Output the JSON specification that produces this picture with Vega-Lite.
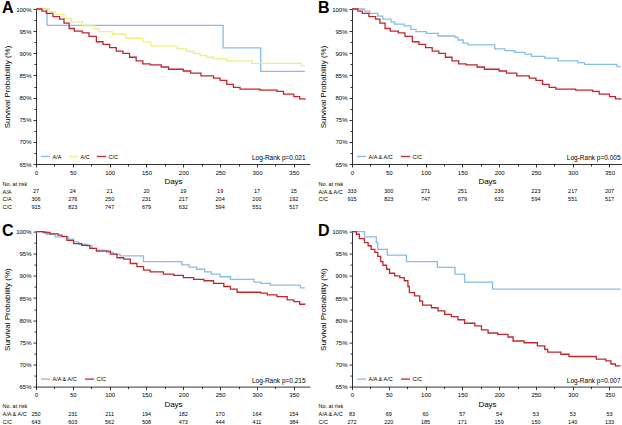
{
"$schema": "https://vega.github.io/schema/vega-lite/v6.json",
"background": "white",
"padding": {"left": 2, "top": 0, "right": 0, "bottom": 0},
"bounds": "flush",
"columns": 2,
"spacing": {"row": 19.3, "column": 42},
"resolve": {"scale": {"color": "independent", "x": "independent", "y": "independent"}, "legend": {"color": "independent"}},
"datasets": {
"km": [
{"p":"A","g":"A/A","d":0,"s":100},{"p":"A","g":"A/A","d":15,"s":96.3},{"p":"A","g":"A/A","d":254,"s":91.2},{"p":"A","g":"A/A","d":305,"s":85.9},{"p":"A","g":"A/A","d":365,"s":85.9},
{"p":"A","g":"A/C","d":0,"s":100},{"p":"A","g":"A/C","d":18,"s":99.4},{"p":"A","g":"A/C","d":27,"s":98.8},{"p":"A","g":"A/C","d":38,"s":97.9},{"p":"A","g":"A/C","d":48,"s":97.1},{"p":"A","g":"A/C","d":63,"s":96.2},{"p":"A","g":"A/C","d":79,"s":95.5},{"p":"A","g":"A/C","d":86,"s":94.9},{"p":"A","g":"A/C","d":104,"s":94.3},{"p":"A","g":"A/C","d":122,"s":93.4},{"p":"A","g":"A/C","d":145,"s":92.5},{"p":"A","g":"A/C","d":156,"s":91.6},{"p":"A","g":"A/C","d":192,"s":91.0},{"p":"A","g":"A/C","d":204,"s":90.4},{"p":"A","g":"A/C","d":214,"s":90.0},{"p":"A","g":"A/C","d":223,"s":89.5},{"p":"A","g":"A/C","d":232,"s":89.1},{"p":"A","g":"A/C","d":241,"s":88.8},{"p":"A","g":"A/C","d":259,"s":88.3},{"p":"A","g":"A/C","d":293,"s":87.7},{"p":"A","g":"A/C","d":360,"s":87.2},{"p":"A","g":"A/C","d":365,"s":87.2},
{"p":"A","g":"C/C","d":0,"s":100},{"p":"A","g":"C/C","d":8,"s":99.5},{"p":"A","g":"C/C","d":14,"s":99.0},{"p":"A","g":"C/C","d":23,"s":98.3},{"p":"A","g":"C/C","d":32,"s":97.7},{"p":"A","g":"C/C","d":38,"s":96.8},{"p":"A","g":"C/C","d":45,"s":95.6},{"p":"A","g":"C/C","d":52,"s":95.0},{"p":"A","g":"C/C","d":63,"s":94.6},{"p":"A","g":"C/C","d":72,"s":93.8},{"p":"A","g":"C/C","d":82,"s":92.6},{"p":"A","g":"C/C","d":91,"s":92.0},{"p":"A","g":"C/C","d":100,"s":91.3},{"p":"A","g":"C/C","d":109,"s":90.5},{"p":"A","g":"C/C","d":118,"s":90.0},{"p":"A","g":"C/C","d":127,"s":89.1},{"p":"A","g":"C/C","d":136,"s":88.3},{"p":"A","g":"C/C","d":145,"s":87.6},{"p":"A","g":"C/C","d":155,"s":87.4},{"p":"A","g":"C/C","d":170,"s":86.9},{"p":"A","g":"C/C","d":180,"s":86.4},{"p":"A","g":"C/C","d":200,"s":86.0},{"p":"A","g":"C/C","d":210,"s":85.5},{"p":"A","g":"C/C","d":224,"s":84.9},{"p":"A","g":"C/C","d":241,"s":84.4},{"p":"A","g":"C/C","d":250,"s":83.9},{"p":"A","g":"C/C","d":259,"s":83.0},{"p":"A","g":"C/C","d":268,"s":82.3},{"p":"A","g":"C/C","d":277,"s":81.9},{"p":"A","g":"C/C","d":304,"s":81.7},{"p":"A","g":"C/C","d":327,"s":81.4},{"p":"A","g":"C/C","d":336,"s":80.8},{"p":"A","g":"C/C","d":350,"s":80.2},{"p":"A","g":"C/C","d":358,"s":79.7},{"p":"A","g":"C/C","d":365,"s":79.5},
{"p":"B","g":"A/A & A/C","d":0,"s":100},{"p":"B","g":"A/A & A/C","d":17,"s":99.5},{"p":"B","g":"A/A & A/C","d":24,"s":99.0},{"p":"B","g":"A/A & A/C","d":35,"s":98.4},{"p":"B","g":"A/A & A/C","d":42,"s":97.7},{"p":"B","g":"A/A & A/C","d":53,"s":97.1},{"p":"B","g":"A/A & A/C","d":58,"s":96.6},{"p":"B","g":"A/A & A/C","d":71,"s":96.2},{"p":"B","g":"A/A & A/C","d":80,"s":95.4},{"p":"B","g":"A/A & A/C","d":87,"s":94.9},{"p":"B","g":"A/A & A/C","d":101,"s":94.5},{"p":"B","g":"A/A & A/C","d":117,"s":93.9},{"p":"B","g":"A/A & A/C","d":140,"s":93.6},{"p":"B","g":"A/A & A/C","d":144,"s":93.0},{"p":"B","g":"A/A & A/C","d":151,"s":92.3},{"p":"B","g":"A/A & A/C","d":158,"s":91.9},{"p":"B","g":"A/A & A/C","d":194,"s":91.0},{"p":"B","g":"A/A & A/C","d":208,"s":90.6},{"p":"B","g":"A/A & A/C","d":221,"s":90.2},{"p":"B","g":"A/A & A/C","d":235,"s":89.8},{"p":"B","g":"A/A & A/C","d":244,"s":89.3},{"p":"B","g":"A/A & A/C","d":262,"s":88.9},{"p":"B","g":"A/A & A/C","d":280,"s":88.3},{"p":"B","g":"A/A & A/C","d":307,"s":87.9},{"p":"B","g":"A/A & A/C","d":316,"s":87.5},{"p":"B","g":"A/A & A/C","d":360,"s":87.0},{"p":"B","g":"A/A & A/C","d":365,"s":87.0},
{"p":"B","g":"C/C","d":0,"s":100},{"p":"B","g":"C/C","d":8,"s":99.5},{"p":"B","g":"C/C","d":14,"s":99.0},{"p":"B","g":"C/C","d":23,"s":98.3},{"p":"B","g":"C/C","d":32,"s":97.7},{"p":"B","g":"C/C","d":38,"s":96.8},{"p":"B","g":"C/C","d":45,"s":95.6},{"p":"B","g":"C/C","d":52,"s":95.0},{"p":"B","g":"C/C","d":63,"s":94.6},{"p":"B","g":"C/C","d":72,"s":93.8},{"p":"B","g":"C/C","d":82,"s":92.6},{"p":"B","g":"C/C","d":91,"s":92.0},{"p":"B","g":"C/C","d":100,"s":91.3},{"p":"B","g":"C/C","d":109,"s":90.5},{"p":"B","g":"C/C","d":118,"s":90.0},{"p":"B","g":"C/C","d":127,"s":89.1},{"p":"B","g":"C/C","d":136,"s":88.3},{"p":"B","g":"C/C","d":145,"s":87.6},{"p":"B","g":"C/C","d":155,"s":87.4},{"p":"B","g":"C/C","d":170,"s":86.9},{"p":"B","g":"C/C","d":180,"s":86.4},{"p":"B","g":"C/C","d":200,"s":86.0},{"p":"B","g":"C/C","d":210,"s":85.5},{"p":"B","g":"C/C","d":224,"s":84.9},{"p":"B","g":"C/C","d":241,"s":84.4},{"p":"B","g":"C/C","d":250,"s":83.9},{"p":"B","g":"C/C","d":259,"s":83.0},{"p":"B","g":"C/C","d":268,"s":82.3},{"p":"B","g":"C/C","d":277,"s":81.9},{"p":"B","g":"C/C","d":304,"s":81.7},{"p":"B","g":"C/C","d":327,"s":81.4},{"p":"B","g":"C/C","d":336,"s":80.8},{"p":"B","g":"C/C","d":350,"s":80.2},{"p":"B","g":"C/C","d":358,"s":79.7},{"p":"B","g":"C/C","d":365,"s":79.5},
{"p":"C","g":"A/A & A/C","d":0,"s":100},{"p":"C","g":"A/A & A/C","d":14,"s":99.4},{"p":"C","g":"A/A & A/C","d":26,"s":98.8},{"p":"C","g":"A/A & A/C","d":44,"s":98.3},{"p":"C","g":"A/A & A/C","d":51,"s":97.7},{"p":"C","g":"A/A & A/C","d":58,"s":97.1},{"p":"C","g":"A/A & A/C","d":69,"s":96.8},{"p":"C","g":"A/A & A/C","d":76,"s":96.2},{"p":"C","g":"A/A & A/C","d":82,"s":95.8},{"p":"C","g":"A/A & A/C","d":96,"s":95.3},{"p":"C","g":"A/A & A/C","d":105,"s":94.9},{"p":"C","g":"A/A & A/C","d":114,"s":94.5},{"p":"C","g":"A/A & A/C","d":146,"s":93.2},{"p":"C","g":"A/A & A/C","d":198,"s":92.5},{"p":"C","g":"A/A & A/C","d":208,"s":92.0},{"p":"C","g":"A/A & A/C","d":218,"s":91.5},{"p":"C","g":"A/A & A/C","d":229,"s":90.9},{"p":"C","g":"A/A & A/C","d":238,"s":90.4},{"p":"C","g":"A/A & A/C","d":250,"s":89.8},{"p":"C","g":"A/A & A/C","d":264,"s":89.2},{"p":"C","g":"A/A & A/C","d":296,"s":88.6},{"p":"C","g":"A/A & A/C","d":305,"s":88.3},{"p":"C","g":"A/A & A/C","d":318,"s":87.9},{"p":"C","g":"A/A & A/C","d":359,"s":87.3},{"p":"C","g":"A/A & A/C","d":365,"s":87.3},
{"p":"C","g":"C/C","d":0,"s":100},{"p":"C","g":"C/C","d":10,"s":99.8},{"p":"C","g":"C/C","d":19,"s":99.5},{"p":"C","g":"C/C","d":30,"s":99.2},{"p":"C","g":"C/C","d":35,"s":98.9},{"p":"C","g":"C/C","d":42,"s":98.0},{"p":"C","g":"C/C","d":51,"s":97.3},{"p":"C","g":"C/C","d":62,"s":96.9},{"p":"C","g":"C/C","d":73,"s":96.2},{"p":"C","g":"C/C","d":82,"s":95.6},{"p":"C","g":"C/C","d":101,"s":94.9},{"p":"C","g":"C/C","d":110,"s":94.1},{"p":"C","g":"C/C","d":119,"s":93.8},{"p":"C","g":"C/C","d":128,"s":92.8},{"p":"C","g":"C/C","d":137,"s":92.1},{"p":"C","g":"C/C","d":146,"s":91.3},{"p":"C","g":"C/C","d":155,"s":90.9},{"p":"C","g":"C/C","d":173,"s":90.4},{"p":"C","g":"C/C","d":187,"s":90.1},{"p":"C","g":"C/C","d":200,"s":89.6},{"p":"C","g":"C/C","d":214,"s":89.2},{"p":"C","g":"C/C","d":228,"s":88.9},{"p":"C","g":"C/C","d":241,"s":88.3},{"p":"C","g":"C/C","d":255,"s":87.6},{"p":"C","g":"C/C","d":264,"s":87.0},{"p":"C","g":"C/C","d":273,"s":86.3},{"p":"C","g":"C/C","d":305,"s":86.1},{"p":"C","g":"C/C","d":314,"s":85.7},{"p":"C","g":"C/C","d":327,"s":85.3},{"p":"C","g":"C/C","d":341,"s":84.6},{"p":"C","g":"C/C","d":350,"s":84.2},{"p":"C","g":"C/C","d":358,"s":83.6},{"p":"C","g":"C/C","d":365,"s":83.5},
{"p":"D","g":"A/A & A/C","d":0,"s":100},{"p":"D","g":"A/A & A/C","d":17,"s":98.8},{"p":"D","g":"A/A & A/C","d":33,"s":97.5},{"p":"D","g":"A/A & A/C","d":35,"s":96.0},{"p":"D","g":"A/A & A/C","d":48,"s":94.7},{"p":"D","g":"A/A & A/C","d":74,"s":93.2},{"p":"D","g":"A/A & A/C","d":116,"s":91.9},{"p":"D","g":"A/A & A/C","d":140,"s":90.4},{"p":"D","g":"A/A & A/C","d":153,"s":88.6},{"p":"D","g":"A/A & A/C","d":191,"s":87.0},{"p":"D","g":"A/A & A/C","d":365,"s":87.0},
{"p":"D","g":"C/C","d":0,"s":100},{"p":"D","g":"C/C","d":6,"s":99.4},{"p":"D","g":"C/C","d":10,"s":98.4},{"p":"D","g":"C/C","d":17,"s":97.5},{"p":"D","g":"C/C","d":22,"s":96.8},{"p":"D","g":"C/C","d":26,"s":96.0},{"p":"D","g":"C/C","d":31,"s":95.3},{"p":"D","g":"C/C","d":35,"s":94.4},{"p":"D","g":"C/C","d":39,"s":93.2},{"p":"D","g":"C/C","d":42,"s":92.4},{"p":"D","g":"C/C","d":47,"s":91.5},{"p":"D","g":"C/C","d":51,"s":90.6},{"p":"D","g":"C/C","d":58,"s":90.0},{"p":"D","g":"C/C","d":65,"s":89.6},{"p":"D","g":"C/C","d":71,"s":88.9},{"p":"D","g":"C/C","d":76,"s":87.6},{"p":"D","g":"C/C","d":78,"s":86.2},{"p":"D","g":"C/C","d":85,"s":85.5},{"p":"D","g":"C/C","d":92,"s":84.3},{"p":"D","g":"C/C","d":96,"s":83.4},{"p":"D","g":"C/C","d":108,"s":82.8},{"p":"D","g":"C/C","d":117,"s":82.1},{"p":"D","g":"C/C","d":126,"s":81.3},{"p":"D","g":"C/C","d":135,"s":80.8},{"p":"D","g":"C/C","d":144,"s":80.1},{"p":"D","g":"C/C","d":153,"s":79.3},{"p":"D","g":"C/C","d":167,"s":78.7},{"p":"D","g":"C/C","d":176,"s":77.8},{"p":"D","g":"C/C","d":185,"s":77.1},{"p":"D","g":"C/C","d":198,"s":76.8},{"p":"D","g":"C/C","d":212,"s":76.2},{"p":"D","g":"C/C","d":219,"s":75.3},{"p":"D","g":"C/C","d":234,"s":74.9},{"p":"D","g":"C/C","d":252,"s":74.2},{"p":"D","g":"C/C","d":262,"s":73.4},{"p":"D","g":"C/C","d":266,"s":72.8},{"p":"D","g":"C/C","d":284,"s":72.3},{"p":"D","g":"C/C","d":295,"s":71.8},{"p":"D","g":"C/C","d":332,"s":71.2},{"p":"D","g":"C/C","d":345,"s":70.8},{"p":"D","g":"C/C","d":352,"s":70.1},{"p":"D","g":"C/C","d":358,"s":69.7},{"p":"D","g":"C/C","d":365,"s":69.7}
],
"risk": [
{"p":"A","r":"A/A","d":0,"n":27},{"p":"A","r":"A/A","d":50,"n":24},{"p":"A","r":"A/A","d":100,"n":21},{"p":"A","r":"A/A","d":150,"n":20},{"p":"A","r":"A/A","d":200,"n":19},{"p":"A","r":"A/A","d":250,"n":19},{"p":"A","r":"A/A","d":300,"n":17},{"p":"A","r":"A/A","d":350,"n":15},
{"p":"A","r":"C/A","d":0,"n":306},{"p":"A","r":"C/A","d":50,"n":276},{"p":"A","r":"C/A","d":100,"n":250},{"p":"A","r":"C/A","d":150,"n":231},{"p":"A","r":"C/A","d":200,"n":217},{"p":"A","r":"C/A","d":250,"n":204},{"p":"A","r":"C/A","d":300,"n":200},{"p":"A","r":"C/A","d":350,"n":192},
{"p":"A","r":"C/C","d":0,"n":915},{"p":"A","r":"C/C","d":50,"n":823},{"p":"A","r":"C/C","d":100,"n":747},{"p":"A","r":"C/C","d":150,"n":679},{"p":"A","r":"C/C","d":200,"n":632},{"p":"A","r":"C/C","d":250,"n":594},{"p":"A","r":"C/C","d":300,"n":551},{"p":"A","r":"C/C","d":350,"n":517},
{"p":"B","r":"A/A & A/C","d":0,"n":333},{"p":"B","r":"A/A & A/C","d":50,"n":300},{"p":"B","r":"A/A & A/C","d":100,"n":271},{"p":"B","r":"A/A & A/C","d":150,"n":251},{"p":"B","r":"A/A & A/C","d":200,"n":236},{"p":"B","r":"A/A & A/C","d":250,"n":223},{"p":"B","r":"A/A & A/C","d":300,"n":217},{"p":"B","r":"A/A & A/C","d":350,"n":207},
{"p":"B","r":"C/C","d":0,"n":915},{"p":"B","r":"C/C","d":50,"n":823},{"p":"B","r":"C/C","d":100,"n":747},{"p":"B","r":"C/C","d":150,"n":679},{"p":"B","r":"C/C","d":200,"n":632},{"p":"B","r":"C/C","d":250,"n":594},{"p":"B","r":"C/C","d":300,"n":551},{"p":"B","r":"C/C","d":350,"n":517},
{"p":"C","r":"A/A & A/C","d":0,"n":250},{"p":"C","r":"A/A & A/C","d":50,"n":231},{"p":"C","r":"A/A & A/C","d":100,"n":211},{"p":"C","r":"A/A & A/C","d":150,"n":194},{"p":"C","r":"A/A & A/C","d":200,"n":182},{"p":"C","r":"A/A & A/C","d":250,"n":170},{"p":"C","r":"A/A & A/C","d":300,"n":164},{"p":"C","r":"A/A & A/C","d":350,"n":154},
{"p":"C","r":"C/C","d":0,"n":643},{"p":"C","r":"C/C","d":50,"n":603},{"p":"C","r":"C/C","d":100,"n":562},{"p":"C","r":"C/C","d":150,"n":508},{"p":"C","r":"C/C","d":200,"n":473},{"p":"C","r":"C/C","d":250,"n":444},{"p":"C","r":"C/C","d":300,"n":411},{"p":"C","r":"C/C","d":350,"n":384},
{"p":"D","r":"A/A & A/C","d":0,"n":83},{"p":"D","r":"A/A & A/C","d":50,"n":69},{"p":"D","r":"A/A & A/C","d":100,"n":60},{"p":"D","r":"A/A & A/C","d":150,"n":57},{"p":"D","r":"A/A & A/C","d":200,"n":54},{"p":"D","r":"A/A & A/C","d":250,"n":53},{"p":"D","r":"A/A & A/C","d":300,"n":53},{"p":"D","r":"A/A & A/C","d":350,"n":53},
{"p":"D","r":"C/C","d":0,"n":272},{"p":"D","r":"C/C","d":50,"n":220},{"p":"D","r":"C/C","d":100,"n":185},{"p":"D","r":"C/C","d":150,"n":171},{"p":"D","r":"C/C","d":200,"n":159},{"p":"D","r":"C/C","d":250,"n":150},{"p":"D","r":"C/C","d":300,"n":140},{"p":"D","r":"C/C","d":350,"n":133}
]
},
"concat": [
{"width": 274, "height": 155,
 "title": {"text": "A", "anchor": "start", "frame": "group", "fontSize": 16, "fontWeight": "bold", "font": "Liberation Sans", "color": "#000", "offset": -14.7, "dx": -34, "dy": 8.5, "baseline": "alphabetic"},
 "resolve": {"axis": {"x": "independent", "y": "independent"}},
 "layer": [
  {"data": {"name": "km"}, "transform": [{"filter": "datum.p === 'A'"}],
   "mark": {"type": "line", "interpolate": "step-after", "strokeWidth": 1.3},
   "encoding": {
    "x": {"field": "d", "type": "quantitative", "scale": {"domain": [0, 372], "nice": false, "zero": false},
     "axis": {"orient": "bottom", "title": "Days", "values": [0,50,100,150,200,250,300,350], "tickSize": 3, "labelPadding": 2, "titleFontSize": 8, "titlePadding": 2.5, "labelOverlap": false, "labelFlush": false}},
    "y": {"field": "s", "type": "quantitative", "scale": {"domain": [65, 100], "nice": false, "zero": false},
     "axis": {"orient": "left", "title": "Survival Probability (%)", "values": [65,70,75,80,85,90,95,100], "labelExpr": "datum.value + '%'", "tickSize": 3, "labelPadding": 2, "titleFontSize": 8, "titlePadding": 4, "labelOverlap": false, "labelFlush": false}},
    "color": {"field": "g", "type": "nominal", "scale": {"domain": ["A/A", "A/C", "C/C"], "range": ["#86bde6", "#eeee86", "#c0272d"]},
     "legend": {"title": null, "orient": "bottom-left", "direction": "horizontal", "symbolType": "stroke", "symbolSize": 81, "symbolStrokeWidth": 1.3, "labelFontSize": 5.5, "labelOffset": 1.5, "columnPadding": 4, "offset": 4, "padding": 0}}
   }},
  {"data": {"values": [{"t": "Log-Rank p=0.021"}]}, "mark": {"type": "text", "align": "right", "baseline": "middle", "fontSize": 6.5, "color": "#000"},
   "encoding": {
    "x": {"datum": 366, "type": "quantitative", "axis": {"orient": "bottom", "title": null, "values": [25,75,125,175,225,275,325], "labels": false, "domain": false, "tickSize": 2}},
    "y": {"datum": 66.3, "type": "quantitative", "axis": {"orient": "left", "title": null, "values": [67.5,72.5,77.5,82.5,87.5,92.5,97.5], "labels": false, "domain": false, "tickSize": 2}},
    "text": {"field": "t"}}}
 ]},
{"width": 270, "height": 155,
 "title": {"text": "B", "anchor": "start", "frame": "group", "fontSize": 16, "fontWeight": "bold", "font": "Liberation Sans", "color": "#000", "offset": -14.7, "dx": -34, "dy": 8.5, "baseline": "alphabetic"},
 "resolve": {"axis": {"x": "independent", "y": "independent"}},
 "layer": [
  {"data": {"name": "km"}, "transform": [{"filter": "datum.p === 'B'"}],
   "mark": {"type": "line", "interpolate": "step-after", "strokeWidth": 1.3},
   "encoding": {
    "x": {"field": "d", "type": "quantitative", "scale": {"domain": [0, 367], "nice": false, "zero": false},
     "axis": {"orient": "bottom", "title": "Days", "values": [0,50,100,150,200,250,300,350], "tickSize": 3, "labelPadding": 2, "titleFontSize": 8, "titlePadding": 2.5, "labelOverlap": false, "labelFlush": false}},
    "y": {"field": "s", "type": "quantitative", "scale": {"domain": [65, 100], "nice": false, "zero": false},
     "axis": {"orient": "left", "title": "Survival Probability (%)", "values": [65,70,75,80,85,90,95,100], "labelExpr": "datum.value + '%'", "tickSize": 3, "labelPadding": 2, "titleFontSize": 8, "titlePadding": 4, "labelOverlap": false, "labelFlush": false}},
    "color": {"field": "g", "type": "nominal", "scale": {"domain": ["A/A & A/C", "C/C"], "range": ["#86bde6", "#c0272d"]},
     "legend": {"title": null, "orient": "bottom-left", "direction": "horizontal", "symbolType": "stroke", "symbolSize": 81, "symbolStrokeWidth": 1.3, "labelFontSize": 5.5, "labelOffset": 1.5, "columnPadding": 4, "offset": 4, "padding": 0}}
   }},
  {"data": {"values": [{"t": "Log-Rank p=0.005"}]}, "mark": {"type": "text", "align": "right", "baseline": "middle", "fontSize": 6.5, "color": "#000"},
   "encoding": {
    "x": {"datum": 365, "type": "quantitative", "axis": {"orient": "bottom", "title": null, "values": [25,75,125,175,225,275,325], "labels": false, "domain": false, "tickSize": 2}},
    "y": {"datum": 66.3, "type": "quantitative", "axis": {"orient": "left", "title": null, "values": [67.5,72.5,77.5,82.5,87.5,92.5,97.5], "labels": false, "domain": false, "tickSize": 2}},
    "text": {"field": "t"}}}
 ]},
{"width": 274, "height": 28.4,
 "data": {"name": "risk"}, "transform": [{"filter": "datum.p === 'A'"}],
 "mark": {"type": "text", "fontSize": 5.5, "align": "center", "baseline": "middle", "color": "#000"},
 "encoding": {
  "x": {"field": "d", "type": "quantitative", "scale": {"domain": [0, 372], "nice": false, "zero": false}, "axis": null},
  "y": {"field": "r", "type": "nominal", "scale": {"type": "point", "domain": ["No. at risk", "A/A", "C/A", "C/C"], "padding": 0.32, "align": 0, "round": false},
   "axis": {"title": null, "domain": false, "ticks": false, "labelAlign": "left", "labelPadding": 34, "labelFontSize": 5.5, "labelBaseline": "middle"}},
  "text": {"field": "n", "type": "nominal"}
 }},
{"width": 270, "height": 28.4,
 "data": {"name": "risk"}, "transform": [{"filter": "datum.p === 'B'"}],
 "mark": {"type": "text", "fontSize": 5.5, "align": "center", "baseline": "middle", "color": "#000"},
 "encoding": {
  "x": {"field": "d", "type": "quantitative", "scale": {"domain": [0, 367], "nice": false, "zero": false}, "axis": null},
  "y": {"field": "r", "type": "nominal", "scale": {"type": "point", "domain": ["No. at risk", "A/A & A/C", "C/C"], "padding": 0.82, "align": 0, "round": false},
   "axis": {"title": null, "domain": false, "ticks": false, "labelAlign": "left", "labelPadding": 34, "labelFontSize": 5.5, "labelBaseline": "middle"}},
  "text": {"field": "n", "type": "nominal"}
 }},
{"width": 274, "height": 155,
 "title": {"text": "C", "anchor": "start", "frame": "group", "fontSize": 16, "fontWeight": "bold", "font": "Liberation Sans", "color": "#000", "offset": -14.7, "dx": -34, "dy": 8.5, "baseline": "alphabetic"},
 "resolve": {"axis": {"x": "independent", "y": "independent"}},
 "layer": [
  {"data": {"name": "km"}, "transform": [{"filter": "datum.p === 'C'"}],
   "mark": {"type": "line", "interpolate": "step-after", "strokeWidth": 1.3},
   "encoding": {
    "x": {"field": "d", "type": "quantitative", "scale": {"domain": [0, 372], "nice": false, "zero": false},
     "axis": {"orient": "bottom", "title": "Days", "values": [0,50,100,150,200,250,300,350], "tickSize": 3, "labelPadding": 2, "titleFontSize": 8, "titlePadding": 2.5, "labelOverlap": false, "labelFlush": false}},
    "y": {"field": "s", "type": "quantitative", "scale": {"domain": [65, 100], "nice": false, "zero": false},
     "axis": {"orient": "left", "title": "Survival Probability (%)", "values": [65,70,75,80,85,90,95,100], "labelExpr": "datum.value + '%'", "tickSize": 3, "labelPadding": 2, "titleFontSize": 8, "titlePadding": 4, "labelOverlap": false, "labelFlush": false}},
    "color": {"field": "g", "type": "nominal", "scale": {"domain": ["A/A & A/C", "C/C"], "range": ["#86bde6", "#c0272d"]},
     "legend": {"title": null, "orient": "bottom-left", "direction": "horizontal", "symbolType": "stroke", "symbolSize": 81, "symbolStrokeWidth": 1.3, "labelFontSize": 5.5, "labelOffset": 1.5, "columnPadding": 4, "offset": 4, "padding": 0}}
   }},
  {"data": {"values": [{"t": "Log-Rank p=0.215"}]}, "mark": {"type": "text", "align": "right", "baseline": "middle", "fontSize": 6.5, "color": "#000"},
   "encoding": {
    "x": {"datum": 366, "type": "quantitative", "axis": {"orient": "bottom", "title": null, "values": [25,75,125,175,225,275,325], "labels": false, "domain": false, "tickSize": 2}},
    "y": {"datum": 66.3, "type": "quantitative", "axis": {"orient": "left", "title": null, "values": [67.5,72.5,77.5,82.5,87.5,92.5,97.5], "labels": false, "domain": false, "tickSize": 2}},
    "text": {"field": "t"}}}
 ]},
{"width": 270, "height": 155,
 "title": {"text": "D", "anchor": "start", "frame": "group", "fontSize": 16, "fontWeight": "bold", "font": "Liberation Sans", "color": "#000", "offset": -14.7, "dx": -34, "dy": 8.5, "baseline": "alphabetic"},
 "resolve": {"axis": {"x": "independent", "y": "independent"}},
 "layer": [
  {"data": {"name": "km"}, "transform": [{"filter": "datum.p === 'D'"}],
   "mark": {"type": "line", "interpolate": "step-after", "strokeWidth": 1.3},
   "encoding": {
    "x": {"field": "d", "type": "quantitative", "scale": {"domain": [0, 367], "nice": false, "zero": false},
     "axis": {"orient": "bottom", "title": "Days", "values": [0,50,100,150,200,250,300,350], "tickSize": 3, "labelPadding": 2, "titleFontSize": 8, "titlePadding": 2.5, "labelOverlap": false, "labelFlush": false}},
    "y": {"field": "s", "type": "quantitative", "scale": {"domain": [65, 100], "nice": false, "zero": false},
     "axis": {"orient": "left", "title": "Survival Probability (%)", "values": [65,70,75,80,85,90,95,100], "labelExpr": "datum.value + '%'", "tickSize": 3, "labelPadding": 2, "titleFontSize": 8, "titlePadding": 4, "labelOverlap": false, "labelFlush": false}},
    "color": {"field": "g", "type": "nominal", "scale": {"domain": ["A/A & A/C", "C/C"], "range": ["#86bde6", "#c0272d"]},
     "legend": {"title": null, "orient": "bottom-left", "direction": "horizontal", "symbolType": "stroke", "symbolSize": 81, "symbolStrokeWidth": 1.3, "labelFontSize": 5.5, "labelOffset": 1.5, "columnPadding": 4, "offset": 4, "padding": 0}}
   }},
  {"data": {"values": [{"t": "Log-Rank p=0.007"}]}, "mark": {"type": "text", "align": "right", "baseline": "middle", "fontSize": 6.5, "color": "#000"},
   "encoding": {
    "x": {"datum": 365, "type": "quantitative", "axis": {"orient": "bottom", "title": null, "values": [25,75,125,175,225,275,325], "labels": false, "domain": false, "tickSize": 2}},
    "y": {"datum": 66.3, "type": "quantitative", "axis": {"orient": "left", "title": null, "values": [67.5,72.5,77.5,82.5,87.5,92.5,97.5], "labels": false, "domain": false, "tickSize": 2}},
    "text": {"field": "t"}}}
 ]},
{"width": 274, "height": 28.4,
 "data": {"name": "risk"}, "transform": [{"filter": "datum.p === 'C'"}],
 "mark": {"type": "text", "fontSize": 5.5, "align": "center", "baseline": "middle", "color": "#000"},
 "encoding": {
  "x": {"field": "d", "type": "quantitative", "scale": {"domain": [0, 372], "nice": false, "zero": false}, "axis": null},
  "y": {"field": "r", "type": "nominal", "scale": {"type": "point", "domain": ["No. at risk", "A/A & A/C", "C/C"], "padding": 0.82, "align": 0, "round": false},
   "axis": {"title": null, "domain": false, "ticks": false, "labelAlign": "left", "labelPadding": 34, "labelFontSize": 5.5, "labelBaseline": "middle"}},
  "text": {"field": "n", "type": "nominal"}
 }},
{"width": 270, "height": 28.4,
 "data": {"name": "risk"}, "transform": [{"filter": "datum.p === 'D'"}],
 "mark": {"type": "text", "fontSize": 5.5, "align": "center", "baseline": "middle", "color": "#000"},
 "encoding": {
  "x": {"field": "d", "type": "quantitative", "scale": {"domain": [0, 367], "nice": false, "zero": false}, "axis": null},
  "y": {"field": "r", "type": "nominal", "scale": {"type": "point", "domain": ["No. at risk", "A/A & A/C", "C/C"], "padding": 0.82, "align": 0, "round": false},
   "axis": {"title": null, "domain": false, "ticks": false, "labelAlign": "left", "labelPadding": 34, "labelFontSize": 5.5, "labelBaseline": "middle"}},
  "text": {"field": "n", "type": "nominal"}
 }}
],
"config": {
 "view": {"stroke": null},
 "font": "Liberation Sans",
 "axis": {"grid": false, "domainColor": "#000", "tickColor": "#000", "labelColor": "#000", "titleColor": "#000", "labelFontSize": 6, "labelFont": "Liberation Sans", "titleFont": "Liberation Sans", "titleFontWeight": "normal", "labelFlush": false, "labelOverlap": false, "domainWidth": 0.8, "tickWidth": 0.8},
 "legend": {"labelFont": "Liberation Sans", "labelColor": "#000"}
}
}
